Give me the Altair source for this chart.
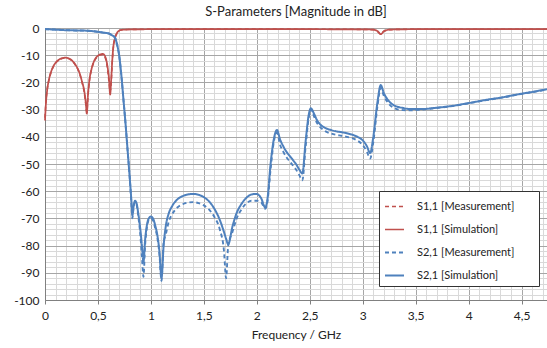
import altair as alt
import pandas as pd
import numpy as np

# ---- data ----
s11_f = [0, 0.01, 0.02, 0.04, 0.06, 0.08, 0.10, 0.13, 0.16, 0.19, 0.21, 0.24, 0.27, 0.30, 0.33,
         0.35, 0.37, 0.385, 0.395, 0.405, 0.42, 0.44, 0.46, 0.48, 0.50, 0.52, 0.545, 0.565,
         0.58, 0.595, 0.605, 0.615, 0.625, 0.635, 0.645, 0.66, 0.68, 0.70, 0.72, 0.75, 0.85,
         1.0, 1.5, 2.0, 2.5, 3.0, 3.1, 3.14, 3.17, 3.20, 3.25, 3.35, 3.5, 4.0, 4.74]
s11_sim = [-34, -27, -23, -18.5, -15.8, -14, -12.8, -11.7, -11.1, -10.9, -11, -11.5, -12.6, -14.3, -17,
           -19.8, -23, -27.5, -31.5, -25, -19, -15, -12.5, -11, -10.2, -9.7, -9.5, -10.2,
           -12, -15.5, -19, -24.5, -19, -12, -7, -3.8, -1.8, -1.0, -0.7, -0.6, -0.5,
           -0.45, -0.4, -0.4, -0.45, -0.5, -0.6, -1.2, -2.3, -1.2, -0.6, -0.5, -0.45, -0.45, -0.45]
s11_meas = [-33, -26.5, -22.8, -18.6, -15.9, -14.1, -12.9, -11.8, -11.2, -11.0, -11.1, -11.6, -12.7, -14.4, -17.2,
            -20, -23.5, -28, -31, -25.5, -19.3, -15.2, -12.6, -11.2, -10.4, -9.9, -9.8, -10.6,
            -12.5, -16.5, -20, -23.5, -20, -12.5, -7.2, -3.9, -1.9, -1.0, -0.7, -0.6, -0.5,
            -0.45, -0.4, -0.4, -0.45, -0.5, -0.6, -1.2, -2.2, -1.2, -0.6, -0.5, -0.45, -0.45, -0.45]

s21_f = [0, 0.1, 0.2, 0.3, 0.4, 0.5, 0.55, 0.6, 0.63, 0.66, 0.68, 0.70, 0.72, 0.74, 0.76, 0.78, 0.80,
         0.815, 0.825, 0.835, 0.85, 0.865, 0.88, 0.90, 0.915, 0.93, 0.945, 0.96, 0.98, 1.0, 1.02,
         1.04, 1.06, 1.08, 1.10, 1.12, 1.14, 1.17, 1.20, 1.25, 1.30, 1.35, 1.40, 1.45, 1.50, 1.55,
         1.60, 1.65, 1.69, 1.71, 1.73, 1.77, 1.81, 1.85, 1.90, 1.95, 2.0, 2.04, 2.08, 2.10, 2.13,
         2.16, 2.19, 2.22, 2.25, 2.28, 2.31, 2.34, 2.37, 2.40, 2.43, 2.46, 2.49, 2.51, 2.54, 2.57,
         2.60, 2.65, 2.70, 2.75, 2.80, 2.85, 2.90, 2.95, 3.00, 3.04, 3.07, 3.10, 3.14, 3.17, 3.20,
         3.25, 3.30, 3.38, 3.45, 3.55, 3.7, 3.85, 4.0, 4.17, 4.3, 4.48, 4.6, 4.74]
s21_sim = [-0.4, -0.6, -0.8, -0.9, -1.0, -1.4, -1.7, -2.0, -2.6, -3.5, -6, -10, -17, -26, -35, -45, -55,
           -63, -69, -66, -63.5, -64.5, -68, -74, -80, -86, -78, -73, -70, -69.3, -70,
           -72.5, -76, -82, -92, -80, -73, -68, -65.5, -63, -61.8, -61.2, -61, -61.3, -62.2, -63.8,
           -66.5, -70.5, -75, -77.5, -79.5, -73, -68, -65, -62.5, -61.2, -61, -62.5, -66, -63, -50,
           -41, -37.5, -41, -43.5, -45.5, -47, -48.5, -50, -52, -53.5, -42, -32, -29.5, -31.5, -34,
           -35.5, -36.8, -37.5, -38, -38.3, -38.7, -39.2, -40, -41.3, -43.5, -46, -40, -27, -21, -24,
           -27, -28.5, -29.4, -29.8, -29.8, -29.3, -28.6, -27.6, -26.4, -25.6, -24.3, -23.5, -22.5]
s21_meas = [-0.4, -0.6, -0.8, -0.9, -1.0, -1.4, -1.7, -2.0, -2.6, -3.5, -6, -10, -17, -26, -35, -45, -55,
            -64, -70, -66.5, -64, -65, -69, -76, -84, -91.5, -80, -74, -70.5, -70, -70.8,
            -73.5, -77, -83, -93, -79, -76, -71, -68.5, -66, -64.8, -64.2, -64, -64.4, -65.2, -66.8,
            -69.5, -74, -82, -92, -80, -75, -70, -67, -64.5, -63.5, -63.5, -64, -66.5, -64, -52,
            -42, -38.5, -43, -45.5, -47.5, -49, -50.5, -52, -54, -56, -44, -33, -30, -32.5, -35,
            -36.5, -38, -38.8, -39.3, -39.6, -40, -40.5, -41.4, -43, -45.5, -48, -42, -28.5, -22, -25,
            -28, -29.5, -30.2, -30.3, -30, -29.4, -28.7, -27.7, -26.5, -25.7, -24.4, -23.6, -22.6]

series_names = ["S1,1 [Measurement]", "S1,1 [Simulation]", "S2,1 [Measurement]", "S2,1 [Simulation]"]
series_colors = ["#C0504D", "#C0504D", "#4F81BD", "#4F81BD"]
series_dash = [[4, 3], [1, 0], [4, 3], [1, 0]]
series_width = [1.6, 2.0, 1.6, 2.0]

x_ticks = [round(0.1 * i, 1) for i in range(0, 48)]
y_ticks = list(range(-100, 1, 2))

frames = []
for name, f, v in [(series_names[0], s11_f, s11_meas), (series_names[1], s11_f, s11_sim),
                   (series_names[2], s21_f, s21_meas), (series_names[3], s21_f, s21_sim)]:
    frames.append(pd.DataFrame({"f": f, "db": v, "series": name}))
df = pd.concat(frames, ignore_index=True)
order_map = {"S2,1 [Measurement]": 0, "S2,1 [Simulation]": 1, "S1,1 [Measurement]": 2, "S1,1 [Simulation]": 3}
df["ord"] = df["series"].map(order_map)

FONT = "Lato"

legend = alt.Legend(title="\u2800\u2800", titleOrient="right", titleFontSize=11,
                    titleColor="transparent", titlePadding=4,
                    orient="none", legendX=334, legendY=163,
                    symbolType="stroke", symbolSize=361, symbolStrokeWidth=2,
                    labelFontSize=11, labelFont=FONT, labelColor="#222",
                    padding=5, rowPadding=7, labelOffset=12,
                    strokeColor="#333", fillColor="white")

chart = alt.Chart(df).mark_line(interpolate="monotone").encode(
    x=alt.X("f:Q", scale=alt.Scale(domain=[0, 4.74], nice=False, zero=False),
            axis=alt.Axis(values=x_ticks, title="Frequency / GHz",
                          labelExpr="round(datum.value*10) % 5 === 0 ? replace(format(datum.value, '~g'), '.', ',') : ''",
                          labelOverlap=False, labelFlush=False, labelPadding=6,
                          gridColor={"condition": {"test": "round(datum.value*10) % 5 === 0", "value": "#a6a6a6"}, "value": "#d9d9d9"},
                          tickColor={"condition": {"test": "round(datum.value*10) % 5 === 0", "value": "#808080"}, "value": "transparent"},
                          tickSize=4, domainColor="#808080", titlePadding=8)),
    y=alt.Y("db:Q", scale=alt.Scale(domain=[-100, 0], nice=False),
            axis=alt.Axis(values=y_ticks, title=None,
                          labelExpr="datum.value % 10 === 0 ? '' + datum.value : ''",
                          labelOverlap=False, labelFlush=False, labelPadding=6,
                          gridColor={"condition": {"test": "datum.value % 10 === 0", "value": "#a6a6a6"}, "value": "#d9d9d9"},
                          ticks=False, domainColor="#808080")),
    color=alt.Color("series:N", scale=alt.Scale(domain=series_names, range=series_colors), legend=legend),
    strokeDash=alt.StrokeDash("series:N", scale=alt.Scale(domain=series_names, range=series_dash), legend=legend),
    strokeWidth=alt.StrokeWidth("series:N", scale=alt.Scale(domain=series_names, range=series_width), legend=None),
    order=alt.Order("ord:Q"),
    detail="series:N",
).properties(
    width=502, height=272,
    title=alt.TitleParams("S-Parameters [Magnitude in dB]", fontSize=13, fontWeight="normal",
                          font=FONT, color="#222", offset=3),
    autosize=alt.AutoSizeParams(type="none"),
    padding={"left": 45, "top": 28, "right": 0, "bottom": 48},
).configure_axis(
    labelFont=FONT, labelFontSize=12, labelColor="#222", titleFont=FONT, titleFontSize=12,
    titleColor="#222", titleFontWeight="normal", gridWidth=1,
).configure_view(stroke=None)

chart.save("out.html", embed_options={"renderer": "svg", "actions": False})
